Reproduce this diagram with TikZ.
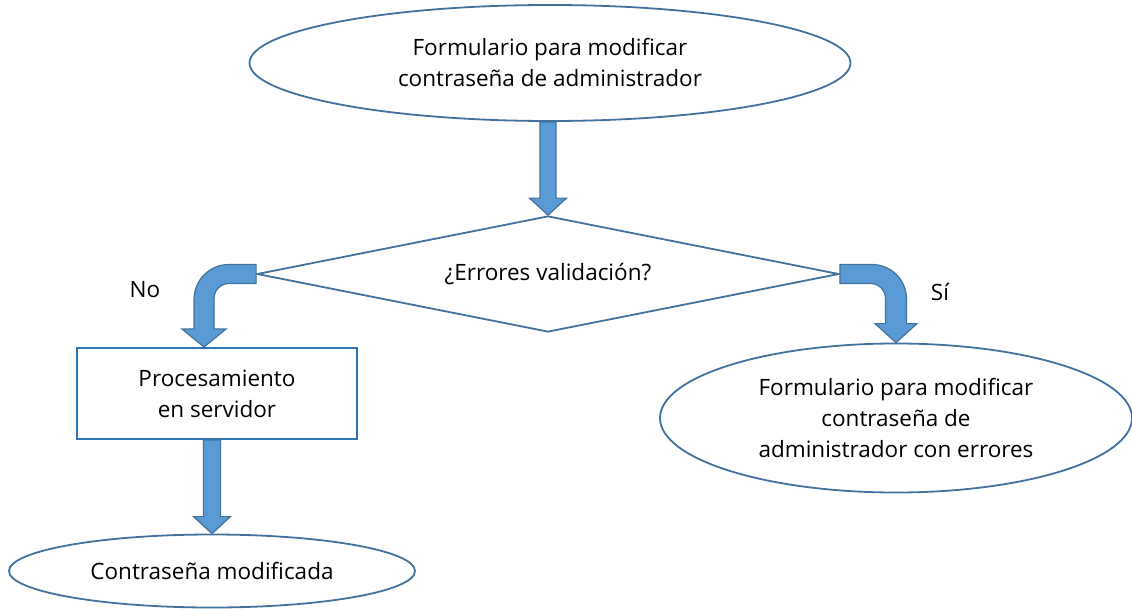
\documentclass[tikz,border=0pt]{standalone}
\usepackage{fontspec}
\setmainfont{Open Sans}
\usetikzlibrary{shapes.geometric,calc}

\definecolor{shapeline}{RGB}{65,113,156}
\definecolor{boxline}{RGB}{46,117,182}
\definecolor{arrowfill}{RGB}{91,155,213}
\definecolor{arrowline}{RGB}{65,113,156}

\tikzset{
    oval/.style={ellipse, draw=shapeline, line width=1.8pt, align=center, inner sep=0pt},
    blockarrow/.style={fill=arrowfill, draw=arrowline, line width=1.2pt, line join=miter},
}

\begin{document}
\begin{tikzpicture}[x=1pt, y=-1pt, font=\fontsize{22.5}{31}\selectfont]
        \useasboundingbox (0,0) rectangle (1132,610);

        \node[oval, minimum width=601pt, minimum height=116pt] (form) at (550,63)
            {Formulario para modificar\\contraseña de administrador};
        \node[diamond, draw=shapeline, line width=1.8pt, aspect=5, inner sep=0pt,
            minimum width=582pt, minimum height=116pt] (valid) at (548,274) {¿Errores validación?};
        \node[draw=boxline, line width=2pt, minimum width=280pt, minimum height=91pt,
            align=center] (proc) at (217,393.5) {Procesamiento\\en servidor};
        \node[oval, minimum width=406pt, minimum height=73pt] (done) at (212,571)
            {Contraseña modificada};
        \node[oval, minimum width=472pt, minimum height=149pt] (err) at (896,418)
            {Formulario para modificar\\contraseña de\\administrador con errores};

        \node (no) at (145,290) {No};
        \node (si) at (940,292) {Sí};

        \coordinate (t1) at (valid.north);
        \coordinate (t2) at (done.north);
        \coordinate (lt) at (valid.west);
        \coordinate (rt) at (valid.east);
        \coordinate (ltip) at ([xshift=-13pt]proc.north);
        \coordinate (rtip) at (err.north);

        % straight arrows
        \draw[blockarrow] (t1) -- ++(18.5,-17) -- ++(-10.5,0) -- ($(t1 |- form.south)+(8,0)$)
            -- ++(-16,0) -- ($(t1)+(-8,-17)$) -- ++(-10.5,0) -- cycle;
        \draw[blockarrow] (t2) -- ++(18.5,-17) -- ++(-10,0) -- ($(t2 |- proc.south)+(8.5,0)$)
            -- ++(-17,0) -- ($(t2)+(-8.5,-17)$) -- ++(-10,0) -- cycle;

        % bent arrows (arcs in canvas angles, y points down)
        \draw[blockarrow] ($(lt)+(0,-9.5)$) -- ($(ltip |- lt)+(25,-9.5)$)
            arc[start angle=90, end angle=180, radius=35pt] -- ($(ltip)+(-10,-18)$) -- ++(-12,0)
            -- (ltip) -- ++(22,-18) -- ++(-12,0) -- ($(ltip |- lt)+(10,24.5)$)
            arc[start angle=180, end angle=90, radius=15pt] -- ($(lt)+(0,9.5)$) -- cycle;
        \draw[blockarrow] ($(rt)+(0,-9.5)$) -- ($(rtip |- rt)+(-24,-9.5)$)
            arc[start angle=90, end angle=0, radius=34.5pt] -- ($(rtip)+(10.5,-19)$) -- ++(10.5,0)
            -- (rtip) -- ++(-21,-19) -- ++(10.5,0) -- ($(rtip |- rt)+(-10.5,24.5)$)
            arc[start angle=0, end angle=90, radius=15pt] -- ($(rt)+(0,9.5)$) -- cycle;

\end{tikzpicture}
\end{document}
